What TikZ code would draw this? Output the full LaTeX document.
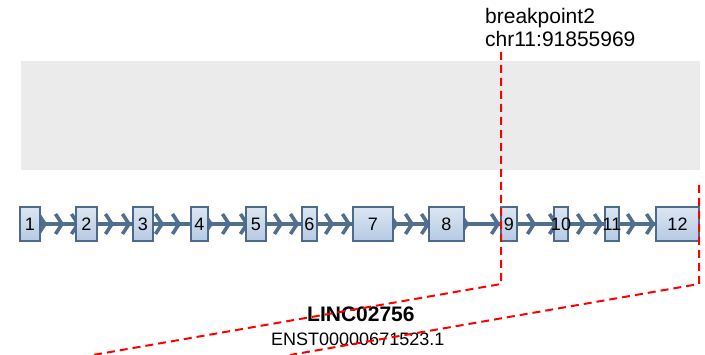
\documentclass[tikz,border=0pt]{standalone}
\usepackage{fontspec}
\setmainfont{Liberation Sans}
\usetikzlibrary{backgrounds,calc}
\definecolor{bandgrey}{HTML}{EBEBEB}
\definecolor{exonedge}{HTML}{4D6A8C}
\definecolor{exontop}{HTML}{DCE6F2}
\definecolor{exonbot}{HTML}{B5CAE3}
\definecolor{intron}{HTML}{4F6E90}
\definecolor{bpred}{HTML}{FF0000}
\tikzset{
  exon/.style={draw=exonedge, line width=1.3pt, top color=exontop, bottom color=exonbot,
    rectangle, inner sep=0pt, minimum height=34pt},
  exonlabel/.style={inner sep=0pt, font=\fontsize{18}{20}\selectfont},
  chev/.style={draw=intron, line width=3.6pt, line join=miter},
  bpline/.style={draw=bpred, line width=2pt, dash pattern=on 8pt off 5pt},
  bigtext/.style={inner sep=0pt, anchor=base west, font=\fontsize{21}{24}\selectfont},
}
\begin{document}
\begin{tikzpicture}[x=1pt, y=-1pt]
\useasboundingbox (0,0) rectangle (705,355);
% grey band
\fill[bandgrey] (21,61) rectangle (700,170);
% exons
\foreach \n/\a/\b in {1/20/40, 2/76/97, 3/133/153, 4/191/208, 5/246/266, 6/302/317,
                      7/353/393, 8/429/464, 9/501/517, 10/554/568, 11/605/619, 12/656/699}{
  \pgfmathsetmacro{\w}{\b-\a}
  \pgfmathsetmacro{\c}{(\a+\b)/2}
  \node[exon, minimum width=\w pt] (e\n) at (\c,224) {};
  \node[exonlabel] (t\n) at (e\n) {\n};
}
\begin{pgfonlayer}{background}
  \draw[draw=intron, line width=3.5pt] (e1.east) -- (e12.west);
  \foreach \x in {45,62,78,112,129,162,179,211,229,247,281,297,332,349,396,412,428,467,498,534,556,584,601,634,653}{
    \draw[chev] ($(\x,224)+(-6.5,-10)$) -- (\x,224) -- ($(\x,224)+(-6.5,10)$);
  }
\end{pgfonlayer}
% labels
\node[bigtext] (bp) at (485,24) {breakpoint2};
\node[bigtext] (chr) at (485,47) {chr11:91855969};
\node[bigtext, font=\fontsize{21}{24}\selectfont\bfseries] (gene) at (307,322) {LINC02756};
\node[inner sep=0pt, anchor=base west, font=\fontsize{18}{20}\selectfont] (tx) at (271,346) {ENST00000671523.1};
% breakpoint lines
\coordinate (b1top) at (501,52);
\coordinate (b1knee) at (501,284);
\coordinate (b1end) at (93,355);
\coordinate (b2top) at (699,185);
\coordinate (b2knee) at (699,284);
\coordinate (b2end) at (290,355);
\draw[bpline] (b1top) -- (b1knee) -- (b1end);
\draw[bpline] (b2top) -- (b2knee) -- (b2end);
\end{tikzpicture}
\end{document}
